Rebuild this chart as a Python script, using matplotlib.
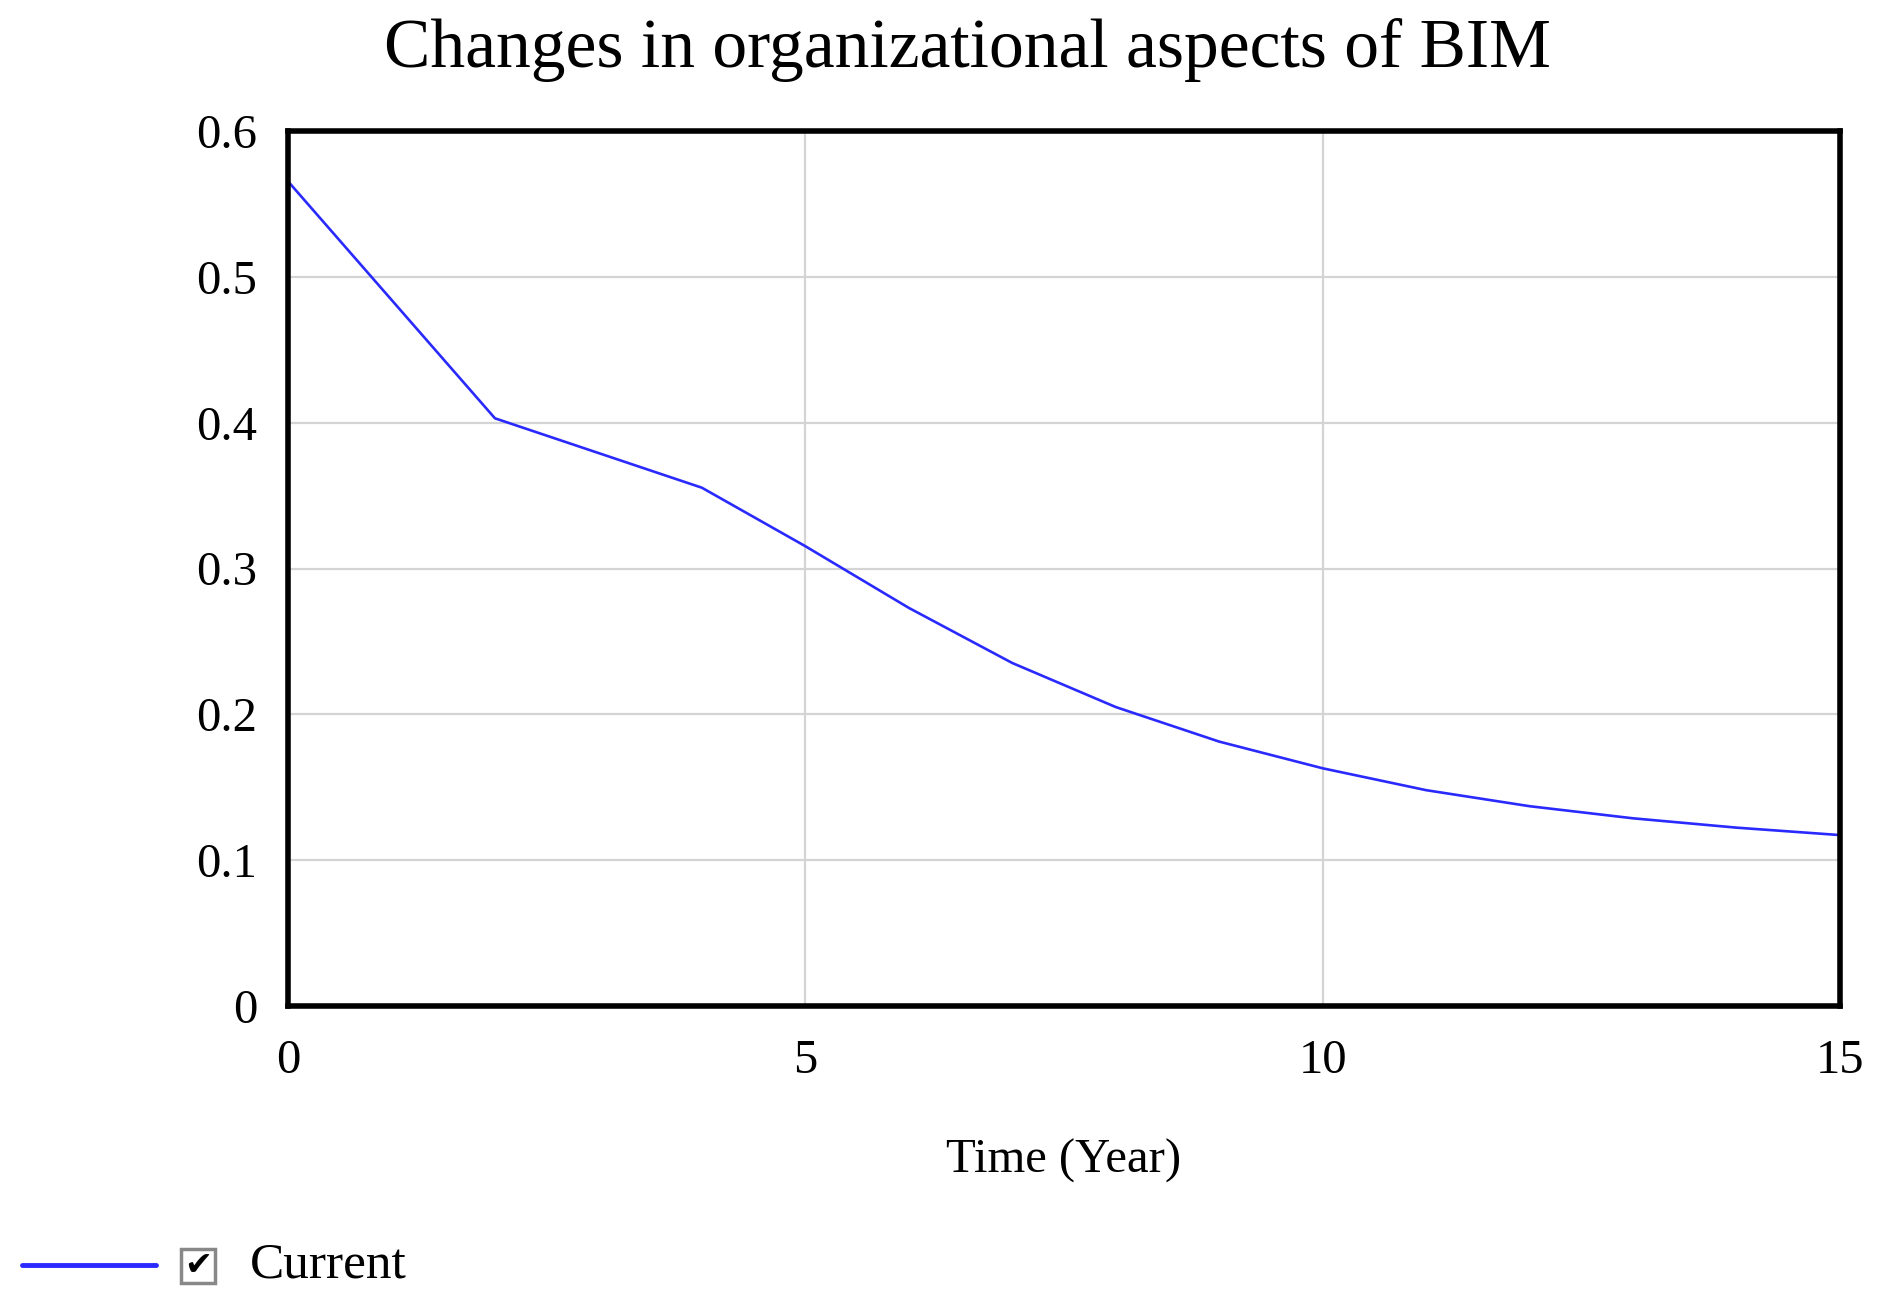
import matplotlib
matplotlib.use("Agg")
import matplotlib.pyplot as plt
from matplotlib.patches import Rectangle
from matplotlib.lines import Line2D

# Data
years = [0, 2, 4, 5, 6, 7, 8, 9, 10, 11, 12, 13, 14, 15]
current = [0.5655, 0.403, 0.3554, 0.3153, 0.273, 0.2352, 0.205, 0.1813,
           0.163, 0.148, 0.137, 0.1287, 0.1223, 0.1172]
x_ticks = [0, 5, 10, 15]
y_ticks = [0, 0.1, 0.2, 0.3, 0.4, 0.5, 0.6]
y_tick_labels = ["0", "0.1", "0.2", "0.3", "0.4", "0.5", "0.6"]
title = "Changes in organizational aspects of BIM"
xlabel = "Time (Year)"
series_name = "Current"

plt.rcParams['font.family'] = ['Liberation Serif', 'DejaVu Serif']

W, H = 1884, 1308
fig = plt.figure(figsize=(W / 100, H / 100), dpi=100)
L, R, T, B = 288, 1840, 131, 1006
ax = fig.add_axes([L / W, 1 - B / H, (R - L) / W, (B - T) / H])

line_color = '#2a2aff'
ax.plot(years, current, color=line_color, lw=1.9, solid_joinstyle='round')

ax.set_xlim(0, 15)
ax.set_ylim(0, 0.6)
ax.set_xticks(x_ticks)
ax.set_xticklabels([str(v) for v in x_ticks])
ax.set_yticks(y_ticks)
ax.set_yticklabels(y_tick_labels)
ax.tick_params(length=0, labelsize=35, pad=22)
ax.tick_params(axis='x', pad=24)
ax.grid(True, color='#d4d4d4', lw=1.6)
ax.set_axisbelow(True)
for s in ax.spines.values():
    s.set_linewidth(4)
    s.set_color('black')

ax.set_xlabel(xlabel, fontsize=35, labelpad=40)
fig.text(967 / W, 1 - 50 / H, title, fontsize=50, ha='center', va='center')

# Legend
ly = 1 - 1265 / H
fig.add_artist(Line2D([22 / W, 156 / W], [ly, ly], color=line_color, lw=3.5,
                      solid_capstyle='round'))
fig.add_artist(Rectangle((181 / W, 1 - 1283 / H), 34 / W, 34 / H,
                         fill=False, ec='#888888', lw=2.5))
fig.text(198 / W, ly, "\u2714", fontsize=24, ha='center', va='center',
         family=['DejaVu Sans'], color='black')
fig.text(250 / W, ly, series_name, fontsize=37, ha='left', va='center')

fig.savefig("out.png", dpi=100)
